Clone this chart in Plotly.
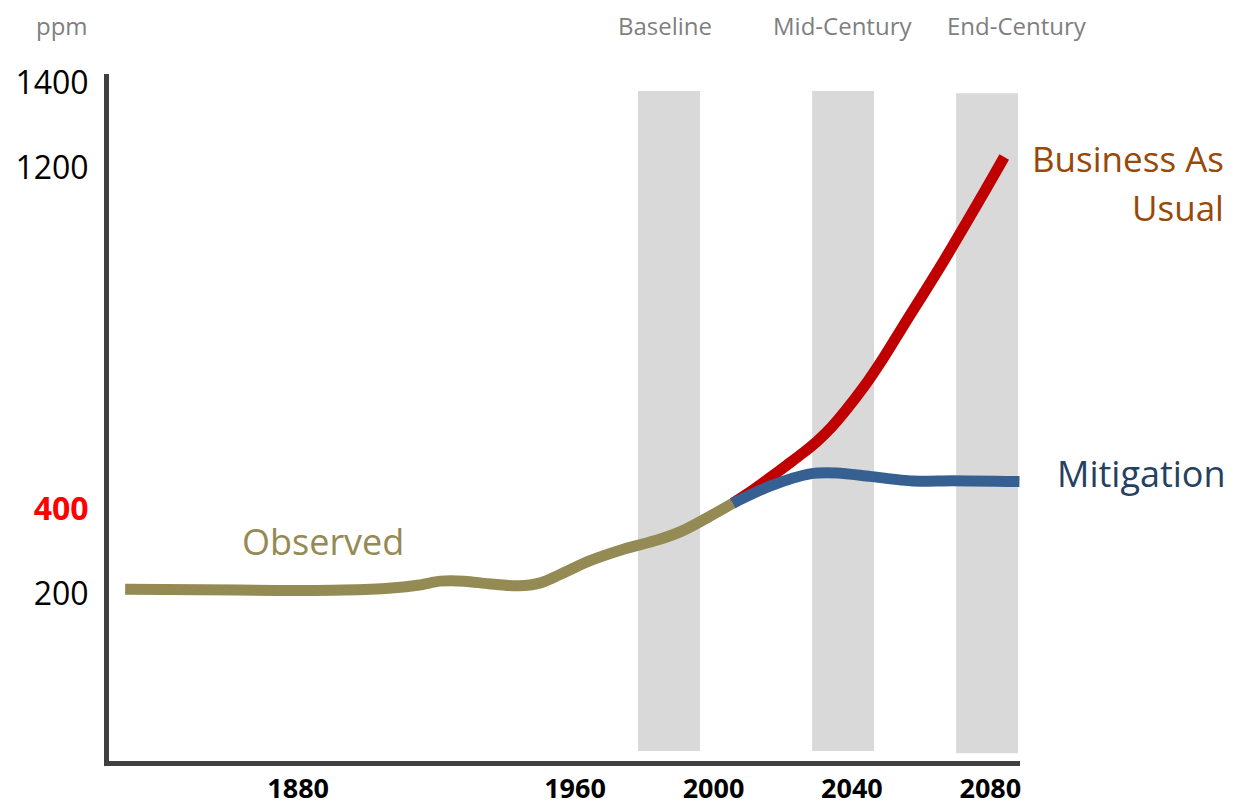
import plotly.graph_objects as go

# ---- data ----
obs_year = [1830, 1852, 1874, 1893, 1907, 1915, 1921, 1928, 1935, 1943.5, 1950, 1955.5, 1964, 1974, 1984, 1991, 1998, 2005.6]
obs_ppm = [210, 209, 207, 208, 213, 220, 229, 229, 223, 218, 225, 244, 276, 304, 326, 347, 377, 412]

bau_year = [2005.6, 2011.4, 2016, 2021.3, 2026, 2030, 2034, 2038, 2043.5, 2049, 2054.8, 2066.9, 2077.6, 2084]
bau_ppm = [412, 443, 470, 502, 531, 558, 590, 628, 686, 752, 828, 986, 1134, 1225]

mit_year = [2005.6, 2016.3, 2027.9, 2035.7, 2045.2, 2057.6, 2069.2, 2088.4]
mit_ppm = [412, 452, 481, 483, 475, 464, 465, 463]

band_names = ["Baseline", "Mid-Century", "End-Century"]
band_start = [1978.2, 2028.5, 2070.1]
band_end = [1996.1, 2046.4, 2088.0]
band_top = [1380, 1380, 1375]
band_bottom = [-170, -170, -175]

x_ticks = [1880, 1960, 2000, 2040, 2080]
y_ticks = [200, 400, 1200, 1400]
y_ticktext = ["200", "<b><span style='color:#ff0000'>400</span></b>", "1200", "1400"]

FONT = "Open Sans"
OLIVE = "#948a54"
RED = "#c00000"
BLUE = "#376092"

fig = go.Figure()

fig.add_trace(go.Scatter(x=obs_year, y=obs_ppm, mode="lines",
                         line=dict(color=OLIVE, width=11, shape="spline", smoothing=0.8),
                         hoverinfo="skip", showlegend=False, name="Observed"))
fig.add_trace(go.Scatter(x=bau_year, y=bau_ppm, mode="lines",
                         line=dict(color=RED, width=11, shape="spline", smoothing=1.0),
                         hoverinfo="skip", showlegend=False, name="Business As Usual"))
fig.add_trace(go.Scatter(x=mit_year, y=mit_ppm, mode="lines",
                         line=dict(color=BLUE, width=11, shape="spline", smoothing=0.8),
                         hoverinfo="skip", showlegend=False, name="Mitigation"))

for s, e, t, b in zip(band_start, band_end, band_top, band_bottom):
    fig.add_shape(type="rect", xref="x", yref="y", x0=s, x1=e, y0=b, y1=t,
                  fillcolor="#d9d9d9", line=dict(width=0), layer="below")

annos = [
    dict(text="ppm", x=-0.0516, y=1.0699, xanchor="center", font=dict(size=24, color="#7f7f7f")),
    dict(text=band_names[0], x=0.6103, y=1.0699, xanchor="center", font=dict(size=24, color="#7f7f7f")),
    dict(text=band_names[1], x=0.8057, y=1.0699, xanchor="center", font=dict(size=24, color="#7f7f7f")),
    dict(text=band_names[2], x=0.9967, y=1.0699, xanchor="center", font=dict(size=24, color="#7f7f7f")),
    dict(text="Business As", x=1.2261, y=0.8777, xanchor="right", font=dict(size=35, color="#984807")),
    dict(text="Usual", x=1.2261, y=0.805, xanchor="right", font=dict(size=35, color="#984807")),
    dict(text="Mitigation", x=1.0384, y=0.4192, xanchor="left", font=dict(size=36, color="#254061")),
    dict(text="Observed", x=0.1438, y=0.3202, xanchor="left", font=dict(size=36, color=OLIVE)),
]
for a in annos:
    fig.add_annotation(xref="paper", yref="paper", yanchor="middle", showarrow=False, **a)

# the page body has an 8px margin, so the figure is 8px smaller and margins shifted accordingly
fig.update_layout(
    width=1228, height=802,
    margin=dict(l=101, r=216, t=66, b=49),
    paper_bgcolor="white", plot_bgcolor="white",
    font=dict(family=FONT, color="black"),
    xaxis=dict(range=[1825.34, 2088.56], showgrid=False, zeroline=False, automargin=False,
               showline=True, linewidth=5, linecolor="#404040",
               tickvals=x_ticks, ticktext=[str(v) for v in x_ticks],
               ticks="", ticklabelstandoff=0,
               tickfont=dict(size=27, color="black", weight="bold")),
    yaxis=dict(range=[-193.4, 1420], showgrid=False, zeroline=False, automargin=False,
               showline=True, linewidth=5, linecolor="#404040",
               tickvals=y_ticks, ticktext=y_ticktext,
               ticks="", ticklabelstandoff=9,
               tickfont=dict(size=32, color="black")),
)

fig.write_html("out.html")
